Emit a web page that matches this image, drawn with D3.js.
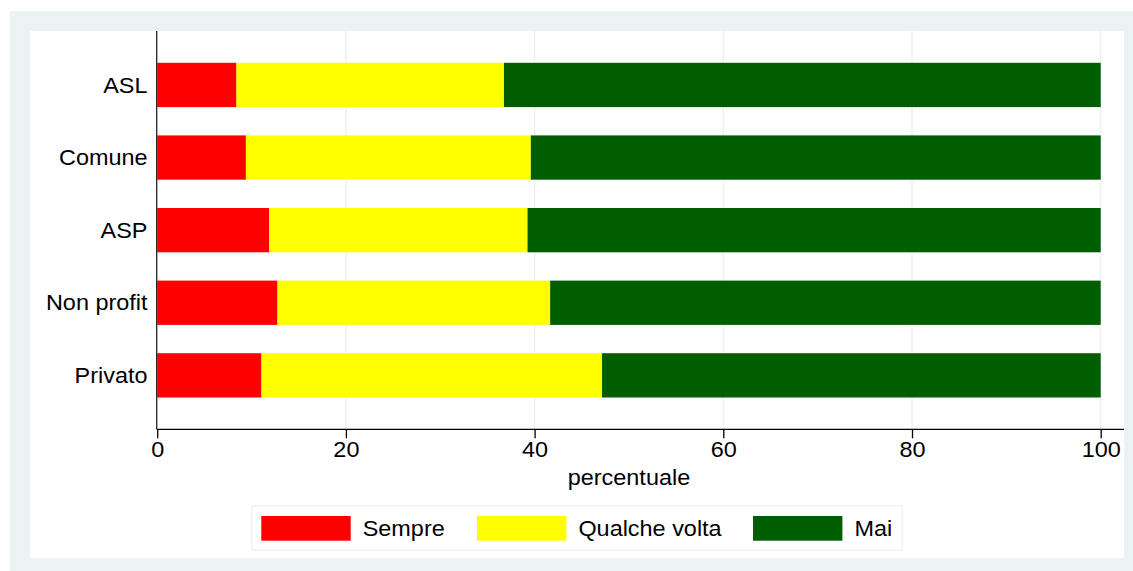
<!DOCTYPE html>
<html lang="it">
<head>
  <meta charset="UTF-8">
  <title>Frequenza per tipo di ente</title>
  <script src="https://d3js.org/d3.v7.min.js"></script>
  <style>
    body { margin: 0; background: #fff; }
    text { font-family: "Liberation Sans", Arial, sans-serif; fill: #000; }
  </style>
</head>
<body>
  <script>
    // data (percent)
    const categories = ["ASL", "Comune", "ASP", "Non profit", "Privato"];
    const seriesNames = ["Sempre", "Qualche volta", "Mai"];
    const sempre = [8.4, 9.4, 11.85, 12.75, 11.05];
    const qualcheVolta = [28.35, 30.2, 27.4, 28.9, 36.1];
    const mai = [63.25, 60.4, 60.75, 58.35, 52.85];
    const xTicks = [0, 20, 40, 60, 80, 100];
    const colors = ["#ff0000", "#ffff00", "#005e00"];

    const width = 1133, height = 571;
    const fontSize = 22;
    const stretch = "scale(1.065,1)"; // the original text is a bit wide

    const svg = d3.select("body")
                  .append("svg")
                  .attr("width", width)
                  .attr("height", height);

    // background frames
    svg.append("rect")
       .attr("x", 10).attr("y", 11)
       .attr("width", width - 10).attr("height", height - 11)
       .attr("fill", "#eaf2f3");
    svg.append("rect")
       .attr("x", 30).attr("y", 31)
       .attr("width", 1094).attr("height", 527)
       .attr("fill", "#ffffff");

    // plot area
    const plot = { left: 157.2, right: 1124, top: 31, bottom: 429.3 };

    const x = d3.scaleLinear()
                .domain([0, 100])
                .range([plot.left, 1100.7]);

    const y = d3.scaleBand()
                .domain(categories)
                .range([plot.top, plot.bottom])
                .paddingInner(0.39)
                .paddingOuter(0.438);

    // stacked table
    const table = categories.map((c, i) => ({
      cat: c,
      "Sempre": sempre[i],
      "Qualche volta": qualcheVolta[i],
      "Mai": mai[i]
    }));
    const stacked = d3.stack().keys(seriesNames)(table);

    // grid lines
    svg.append("g")
       .selectAll("line")
       .data(xTicks.filter(d => d > 0))
       .join("line")
       .attr("x1", d => x(d)).attr("x2", d => x(d))
       .attr("y1", plot.top).attr("y2", plot.bottom)
       .attr("stroke", "#eaf2f3")
       .attr("stroke-width", 1.5);

    // bars
    svg.append("g")
       .selectAll("g")
       .data(stacked)
       .join("g")
       .attr("fill", (d, i) => colors[i])
       .selectAll("rect")
       .data(d => d)
       .join("rect")
       .attr("x", d => x(d[0]))
       .attr("y", d => y(d.data.cat))
       .attr("width", d => x(d[1]) - x(d[0]))
       .attr("height", y.bandwidth());

    // x axis
    const xAxis = svg.append("g")
       .attr("transform", `translate(0, ${plot.bottom})`)
       .call(d3.axisBottom(x).tickValues(xTicks).tickSize(9).tickPadding(3).tickSizeOuter(0));
    xAxis.select(".domain").remove();
    xAxis.append("line")
       .attr("x1", plot.left - 0.5).attr("x2", plot.right)
       .attr("stroke", "#000").attr("stroke-width", 1.3);
    xAxis.selectAll(".tick line").attr("stroke", "#000").attr("stroke-width", 1.3);
    xAxis.selectAll(".tick text")
       .attr("font-size", fontSize)
       .attr("font-family", "Liberation Sans, Arial, sans-serif")
       .attr("fill", "#000")
       .attr("transform", stretch);

    // y axis (no ticks)
    svg.append("line")
       .attr("x1", plot.left - 0.5).attr("x2", plot.left - 0.5)
       .attr("y1", plot.top).attr("y2", plot.bottom)
       .attr("stroke", "#222").attr("stroke-width", 1.3);
    svg.append("g")
       .selectAll("text")
       .data(categories)
       .join("text")
       .attr("transform", d => `translate(147.5, ${y(d) + y.bandwidth() / 2}) ${stretch}`)
       .attr("dy", "0.35em")
       .attr("text-anchor", "end")
       .attr("font-size", fontSize)
       .text(d => d);

    // axis title
    svg.append("text")
       .attr("transform", `translate(${(x(0) + x(100)) / 2}, 485) ${stretch}`)
       .attr("text-anchor", "middle")
       .attr("font-size", fontSize)
       .text("percentuale");

    // legend
    const legend = svg.append("g");
    legend.append("rect")
       .attr("x", 251.7).attr("y", 506)
       .attr("width", 650.6).attr("height", 44)
       .attr("fill", "#fff")
       .attr("stroke", "#eaf2f3").attr("stroke-width", 1.2);
    const keyX = [261.3, 477, 753];
    const items = legend.selectAll("g")
       .data(seriesNames)
       .join("g")
       .attr("transform", (d, i) => `translate(${keyX[i]}, 516)`);
    items.append("rect")
       .attr("width", 89.4).attr("height", 24.7)
       .attr("fill", (d, i) => colors[i]);
    items.append("text")
       .attr("transform", `translate(101.4, 12.4) ${stretch}`)
       .attr("dy", "0.35em")
       .attr("font-size", fontSize)
       .text(d => d);
  </script>
</body>
</html>
